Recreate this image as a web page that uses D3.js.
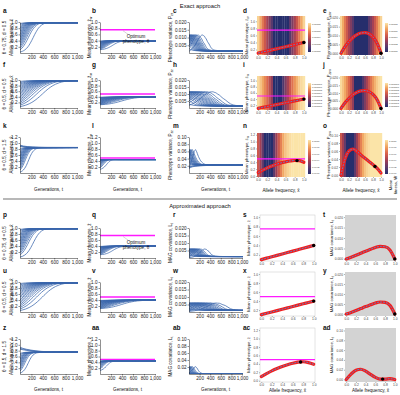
<!DOCTYPE html>
<html>
<head>
<meta charset="utf-8">
<script src="https://cdn.jsdelivr.net/npm/d3@7"></script>
<style>
  body { margin: 0; background: #fff; }
  text { font-family: "Liberation Sans", Arial, sans-serif; }
</style>
</head>
<body>
<svg id="fig" width="400" height="395"></svg>
<script>
// ---------- data ----------
const generationTicks = [200, 400, 600, 800, 1000];
const freqTicks = [0, 0.2, 0.4, 0.6, 0.8, 1.0];
const xGrid = [0, 0.1, 0.2, 0.3, 0.4, 0.5, 0.6, 0.7, 0.8, 0.9, 1.0];

const rowTitles = ["θ = 0.75, d = 0.5", "θ = 0.5, d = 0.5", "θ = 0.5, d = 1.5",
                   "θ = 0.75, d = 0.5", "θ = 0.5, d = 0.5", "θ = 0.5, d = 1.5"];
const optimum = [0.75, 0.5, 0.5, 0.75, 0.5, 0.5];
const dotFreq = [1, 1, 0.85, 1, 1, 0.75];
const letters = [["a", "b", "c", "d", "e"], ["f", "g", "h", "i", "j"], ["k", "l", "m", "n", "o"],
                 ["p", "q", "r", "s", "t"], ["u", "v", "w", "x", "y"], ["z", "aa", "ab", "ac", "ad"]];

// allele frequency trajectories [generation, x̄]; other runs start further along the same path
const trajA = [[0,0.03],[85,0.1],[116,0.15],[139,0.2],[158,0.25],[175,0.3],[190,0.35],[205,0.4],[218,0.45],
  [232,0.5],[245,0.55],[259,0.6],[273,0.65],[289,0.7],[305,0.75],[324,0.8],[347,0.85],[378,0.9],[428,0.95],
  [500,0.97],[650,0.977],[1700,0.978]];
const startA = [0.03,0.1,0.15,0.2,0.25,0.3,0.35,0.4,0.45,0.5,0.55,0.6,0.65,0.7,0.75,0.8,0.85,0.9,0.95];

const trajF = [[0,0.05],[100,0.1],[161,0.15],[208,0.2],[246,0.25],[280,0.3],[310,0.35],[339,0.4],[366,0.45],
  [393,0.5],[419,0.55],[447,0.6],[475,0.65],[505,0.7],[539,0.75],[577,0.8],[624,0.85],[685,0.9],[785,0.95],
  [880,0.968],[1050,0.975],[2000,0.977]];
const startF = [0.05,0.1,0.15,0.2,0.25,0.3,0.35,0.4,0.45,0.5,0.55,0.6,0.65,0.7,0.75,0.8,0.85,0.9,0.95];

const trajK = [[0,0.03],[59,0.1],[80,0.15],[97,0.2],[111,0.25],[123,0.3],[134,0.35],[145,0.4],[156,0.45],
  [167,0.5],[178,0.55],[190,0.6],[204,0.65],[220,0.7],[242,0.75],[276,0.8],[320,0.83],[420,0.845],[1500,0.85]];
const startK = [0.03,0.1,0.15,0.2,0.25,0.3,0.35,0.4,0.45,0.5,0.55,0.6,0.65,0.7,0.75,0.8];
const trajKdown = [[0,0.93],[60,0.9],[130,0.88],[220,0.866],[330,0.857],[480,0.852],[1500,0.85]];
const startKdown = [0.93, 0.9, 0.88];

const trajZ = [[0,0.03],[59,0.1],[81,0.15],[98,0.2],[113,0.25],[126,0.3],[138,0.35],[151,0.4],[163,0.45],
  [176,0.5],[190,0.55],[207,0.6],[230,0.65],[264,0.7],[308,0.73],[400,0.745],[1500,0.75]];
const startZ = [0.03,0.1,0.15,0.2,0.25,0.3,0.35,0.4,0.45,0.5,0.55,0.6,0.65,0.7];
const trajZdown = [[0,0.92],[50,0.88],[110,0.85],[190,0.82],[280,0.795],[380,0.775],[500,0.762],[700,0.754],[1500,0.75]];
const startZdown = [0.92, 0.88, 0.85];

// mean phenotype and variance / covariance as functions of allele frequency (on xGrid)
const phenoLinear = [0.1,0.13,0.16,0.19,0.22,0.25,0.28,0.31,0.34,0.37,0.4];
const phenoCurvedExact = [0.1,0.17,0.235,0.29,0.34,0.38,0.41,0.435,0.45,0.445,0.4];
const phenoCurvedApprox = [0.1,0.17,0.235,0.29,0.34,0.38,0.415,0.44,0.45,0.43,0.39];
const varianceLow = [0,0.0037,0.0066,0.0089,0.0105,0.0114,0.0116,0.0109,0.0091,0.0058,0];
const varianceHigh = [0,0.04,0.06,0.065,0.059,0.05,0.042,0.034,0.026,0.017,0.005];
const covLow = [0,0.0008,0.0017,0.0027,0.0037,0.0046,0.0055,0.006,0.0058,0.0043,0];
const covHigh = [0,0.011,0.019,0.021,0.017,0.0105,0.0045,0.001,0.0008,0.0018,0];

// mean fitness heat-map stripes, x̄ = 0, 0.05, ..., 1 (0 = lowest, 1 = highest)
const stripeX = [0,0.05,0.1,0.15,0.2,0.25,0.3,0.35,0.4,0.45,0.5,0.55,0.6,0.65,0.7,0.75,0.8,0.85,0.9,0.95,1];
const stripesRow1 = [0.95,0.82,0.68,0.55,0.42,0.3,0.18,0,0,0,0,0,0,0,0.18,0.3,0.42,0.55,0.68,0.82,0.95];
const stripesRow2 = [0.97,0.9,0.82,0.72,0.62,0.5,0.35,0,0,0,0,0.15,0.3,0.42,0.55,0.66,0.76,0.85,0.92,0.97,1];
const stripesRow3 = [0.55,0.4,0.22,0,0,0,0,0.2,0.38,0.55,0.7,0.82,0.9,0.95,0.98,1,1,1,1,1,1];
const fitnessLabels1 = ["0.00008","0.00006","0.00004","0.00002","0.00000"];
const fitnessLabels2 = ["0.000007","0.000006","0.000005","0.000004","0.000003","0.000002","0.000001","0.000000"];
const fitnessLabels3 = ["1.0000","0.9998","0.9996","0.9994","0.9992","0.9990"];

// ---------- layout ----------
const svg = d3.select("#fig");
const blue = "#3a65ab", magenta = "#ff1aff", red = "#f21d1d", dashBlue = "#4f8fd6";
const heatStops = [0, 0.2, 0.4, 0.6, 0.8, 1];
const heatColors = ["#262e6c", "#5e3a6c", "#a03f55", "#d9604a", "#f0a25e", "#fbe4a8"];
const heat = d3.scaleLinear().domain(heatStops).range(heatColors);

const colX = [[20, 77], [100, 155], [189, 242]];
const rowY = [[22, 53], [80, 108], [137, 173], [228, 258], [282, 312], [339, 374]];
const mapXExact = [[257, 305], [340, 382]];
const mapXApprox = [[260, 315], [345, 396]];
const mapY = [[16, 55], [76, 110], [133, 177], [215, 261], [272, 316], [328, 382]];
const letterX = [3, 92, 173, 243, 323];
const letterY = [13, 67, 128, 217, 273, 330];

const rows = [
  { up: trajA, upS: startA, down: null, downS: [], pheno: phenoLinear, spread: varianceLow, stripes: stripesRow1, cb: fitnessLabels1, yMax: 1, sMax: 0.02 },
  { up: trajF, upS: startF, down: null, downS: [], pheno: phenoLinear, spread: varianceLow, stripes: stripesRow2, cb: fitnessLabels2, yMax: 1, sMax: 0.02 },
  { up: trajK, upS: startK, down: trajKdown, downS: startKdown, pheno: phenoCurvedExact, spread: varianceHigh, stripes: stripesRow3, cb: fitnessLabels3, yMax: 1.2, sMax: 0.1 },
  { up: trajA, upS: startA, down: null, downS: [], pheno: phenoLinear, spread: covLow, yMax: 1, sMax: 0.02 },
  { up: trajF, upS: startF, down: null, downS: [], pheno: phenoLinear, spread: covLow, yMax: 1, sMax: 0.02 },
  { up: trajZ, upS: startZ, down: trajZdown, downS: startZdown, pheno: phenoCurvedApprox, spread: covHigh, yMax: 1.2, sMax: 0.1 }
];

function fromStart(master, s) {
  const k = master.findIndex(p => Math.abs(p[1] - s) < 1e-9);
  const t0 = master[k][0];
  return master.slice(k).map(p => [p[0] - t0, p[1]]);
}

function styleAxis(g, col, size) {
  g.attr("font-size", size).attr("font-family", "Liberation Sans, Arial, sans-serif");
  g.select(".domain").attr("stroke", col).attr("stroke-width", 0.5);
  g.selectAll(".tick line").attr("stroke", col).attr("stroke-width", 0.5);
  g.selectAll(".tick text").attr("fill", col === "#222" ? "#222" : "#444");
}

function label(x, y, txt, size, opts = {}) {
  const t = svg.append("text").attr("x", x).attr("y", y).attr("font-size", size)
    .attr("text-anchor", opts.anchor || "start").attr("fill", opts.fill || "#111");
  if (opts.bold) t.attr("font-weight", "bold");
  if (opts.rotate) t.attr("transform", `rotate(-90,${x},${y})`);
  return t.text(txt);
}

function yLabel(x, y, main, sub, size = 4.6) {
  const t = svg.append("text").attr("x", x).attr("y", y).attr("font-size", size)
    .attr("text-anchor", "middle").attr("transform", `rotate(-90,${x},${y})`).attr("fill", "#111");
  t.append("tspan").text(main);
  if (sub) t.append("tspan").attr("font-size", size * 0.72).attr("dy", 1.2).text(sub);
}

function timePanel(r, c, curves, yMax, yTicks, fmt, theta) {
  const [x0, x1] = colX[c], [y0, y1] = rowY[r];
  const x = d3.scaleLinear().domain([0, 1000]).range([x0, x1]);
  const y = d3.scaleLinear().domain([0, yMax]).range([y1, y0]);
  const id = `clip${r}_${c}`;
  svg.append("clipPath").attr("id", id).append("rect")
    .attr("x", x0).attr("y", y0 - 4).attr("width", x1 - x0 + 1).attr("height", y1 - y0 + 4);
  const line = d3.line().x(d => x(d[0])).y(d => y(d[1])).curve(d3.curveMonotoneX);
  const g = svg.append("g");
  g.append("g").attr("clip-path", `url(#${id})`).selectAll("path").data(curves).join("path")
    .attr("d", line).attr("fill", "none").attr("stroke", blue).attr("stroke-width", 0.75);
  if (theta != null) {
    g.append("line").attr("x1", x0).attr("x2", x1).attr("y1", y(theta)).attr("y2", y(theta))
      .attr("stroke", magenta).attr("stroke-width", 1.4);
  }
  g.append("g").attr("transform", `translate(0,${y1})`)
    .call(d3.axisBottom(x).tickValues(generationTicks).tickSize(1.5).tickSizeOuter(0).tickPadding(1))
    .call(styleAxis, "#222", 4.6);
  g.append("g").attr("transform", `translate(${x0},0)`)
    .call(d3.axisLeft(y).tickValues(yTicks).tickFormat(d3.format(fmt)).tickSize(1.5).tickSizeOuter(0).tickPadding(1))
    .call(styleAxis, "#222", 4.6);
}

function mapPanel(r, c, values, yDom, yTicks, fmt, row) {
  const exact = r < 3;
  const [x0, x1] = exact ? mapXExact[c - 3] : mapXApprox[c - 3];
  const [y0, y1] = mapY[r];
  const x = d3.scaleLinear().domain([-0.025, 1.025]).range([x0, x1]);
  const y = d3.scaleLinear().domain(yDom).range([y1, y0]);
  const g = svg.append("g");
  if (exact) {
    const step = x(0.05) - x(0);
    g.append("g").selectAll("rect").data(row.stripes).join("rect")
      .attr("x", (d, i) => x(stripeX[i]) - step / 2).attr("width", step + 0.2)
      .attr("y", y0).attr("height", y1 - y0).attr("fill", d => heat(d));
    // colour bar
    const cbx = x1 + 3, cby0 = y0 + 7, cby1 = y1 - 3;
    const gid = `grad${r}_${c}`;
    const grad = svg.append("defs").append("linearGradient").attr("id", gid)
      .attr("x1", 0).attr("y1", 1).attr("x2", 0).attr("y2", 0);
    heatStops.forEach((v, i) => grad.append("stop").attr("offset", v).attr("stop-color", heatColors[i]));
    g.append("rect").attr("x", cbx).attr("y", cby0).attr("width", 3).attr("height", cby1 - cby0)
      .attr("fill", `url(#${gid})`);
    const cbScale = d3.scalePoint().domain(row.cb).range([cby0 + 1, cby1 - 1]);
    g.selectAll("text.cb").data(row.cb).join("text").attr("class", "cb")
      .attr("x", cbx + 4).attr("y", d => cbScale(d) + 0.9)
      .attr("font-size", 2.4).attr("fill", "#333").text(d => d);
  } else if (c === 3) {
    g.append("rect").attr("x", x0).attr("y", y0).attr("width", x1 - x0).attr("height", y1 - y0)
      .attr("fill", "#fff").attr("stroke", "#c8c8c8").attr("stroke-width", 0.5);
  } else {
    g.append("rect").attr("x", x0).attr("y", y0).attr("width", x1 - x0).attr("height", y1 - y0)
      .attr("fill", "#d3d3d3");
  }
  if (c === 3) {
    g.append("line").attr("x1", x0).attr("x2", x1).attr("y1", y(optimum[r])).attr("y2", y(optimum[r]))
      .attr("stroke", magenta).attr("stroke-width", 1.2);
  }
  const pts = xGrid.map((v, i) => [v, values[i]]);
  const line = d3.line().x(d => x(d[0])).y(d => y(d[1])).curve(d3.curveMonotoneX);
  g.append("path").attr("d", line(pts)).attr("fill", "none").attr("stroke", red)
    .attr("stroke-width", 3.2).attr("stroke-linecap", "round");
  g.append("path").attr("d", line(pts)).attr("fill", "none").attr("stroke", dashBlue)
    .attr("stroke-width", 0.9).attr("stroke-dasharray", "1.8,1.2");
  const lookup = d3.scaleLinear().domain(xGrid).range(values);
  g.append("circle").attr("cx", x(dotFreq[r])).attr("cy", y(lookup(dotFreq[r]))).attr("r", 1.7).attr("fill", "#000");
  g.append("g").attr("transform", `translate(0,${y1})`)
    .call(d3.axisBottom(x).tickValues(freqTicks).tickFormat(d3.format(".1f")).tickSize(1).tickSizeOuter(0).tickPadding(1))
    .call(styleAxis, "#666", 3.3).call(a => a.select(".domain").remove());
  g.append("g").attr("transform", `translate(${x0},0)`)
    .call(d3.axisLeft(y).tickValues(yTicks).tickFormat(d3.format(fmt)).tickSize(1).tickSizeOuter(0).tickPadding(1))
    .call(styleAxis, "#666", 3.3).call(a => a.select(".domain").remove());
}

// ---------- draw ----------
rows.forEach((row, r) => {
  const freqCurves = row.upS.map(s => fromStart(row.up, s))
    .concat(row.downS.map(s => fromStart(row.down, s)));
  const toPheno = d3.scaleLinear().domain(xGrid).range(row.pheno);
  const toSpread = d3.scaleLinear().domain(xGrid).range(row.spread);
  const phenoCurves = freqCurves.map(cv => cv.map(p => [p[0], toPheno(p[1])]));
  const spreadCurves = freqCurves.map(cv => cv.map(p => [p[0], toSpread(p[1])]));
  const tall = row.yMax > 1;
  const fTicks = tall ? [0.2, 0.4, 0.6, 0.8, 1.0, 1.2] : [0.2, 0.4, 0.6, 0.8, 1.0];
  const wide = row.sMax > 0.05;
  const sTicks = wide ? [0.02, 0.04, 0.06, 0.08, 0.1] : [0.005, 0.01, 0.015, 0.02];
  const sFmt = wide ? ".2f" : ".3f";

  timePanel(r, 0, freqCurves, row.yMax, fTicks, ".1f", null);
  timePanel(r, 1, phenoCurves, row.yMax, fTicks, ".1f", optimum[r]);
  timePanel(r, 2, spreadCurves, row.sMax, sTicks, sFmt, null);

  const pDom = tall ? [-0.03, 1.25] : (r < 3 ? [0.045, 1.15] : [0.07, 1.045]);
  const pTicks = tall ? [0, 0.2, 0.4, 0.6, 0.8, 1.0, 1.2] : [0.2, 0.4, 0.6, 0.8, 1.0];
  mapPanel(r, 3, row.pheno, pDom, pTicks, ".1f", row);
  const sDom = wide ? [-0.005, 0.105] : [-0.001, 0.021];
  const sTicks5 = wide ? [0, 0.02, 0.04, 0.06, 0.08, 0.1] : [0, 0.005, 0.01, 0.015, 0.02];
  mapPanel(r, 4, row.spread, sDom, sTicks5, sFmt, row);

  // letters and axis titles
  letters[r].forEach((L, c) => label(letterX[c], letterY[r], L, 6.5, { bold: true }));
  const cy = (rowY[r][0] + rowY[r][1]) / 2;
  label(6, cy, rowTitles[r], 4.6, { rotate: true, anchor: "middle" });
  yLabel(13, cy, "Allele frequency, x\u0304");
  yLabel(91, cy, "Mean phenotype, z\u0304", r < 3 ? "w" : null);
  yLabel(172, cy, r < 3 ? "Phenotype variance, P" : "MAG covariance, L", r < 3 ? "zz" : "t");
  const my = (mapY[r][0] + mapY[r][1]) / 2;
  yLabel(r < 3 ? 248 : 250, my, "Mean phenotype, z\u0304", r < 3 ? "w" : null, 4.2);
  yLabel(r < 3 ? 330 : 333, my, r < 3 ? "Phenotype variance, P" : "MAG covariance, L", r < 3 ? "zzw" : "t", 4.2);
});

// optimum annotation in b and q
[0, 3].forEach(r => {
  const y = d3.scaleLinear().domain([0, 1]).range([rowY[r][1], rowY[r][0]]);
  const ly = y(0.75);
  svg.append("line").attr("x1", 123).attr("y1", ly + 1).attr("x2", 128).attr("y2", ly + 4.5)
    .attr("stroke", "#999").attr("stroke-width", 0.4);
  label(136, ly + 8, "Optimum", 4.6, { anchor: "middle" });
  label(136, ly + 13.5, "phenotype, θ", 4.6, { anchor: "middle" });
});

// bottom axis titles
[[2, 191], [5, 391]].forEach(([r, yy]) => {
  colX.forEach(([a, b]) => label((a + b) / 2, yy, "Generations, t", 4.6, { anchor: "middle" }));
  const mx = r < 3 ? mapXExact : mapXApprox;
  mx.forEach(([a, b]) => label((a + b) / 2, yy + 1, "Allele frequency, x\u0304", 4.6, { anchor: "middle" }));
});

label(392, 185, "Mean", 4.2, { rotate: true, anchor: "middle" });
label(397, 185, "fitness, W\u0304", 4.2, { rotate: true, anchor: "middle" });

label(200, 8, "Exact approach", 5.8, { anchor: "middle" });
svg.append("line").attr("x1", 3).attr("x2", 397).attr("y1", 199).attr("y2", 199)
  .attr("stroke", "#333").attr("stroke-width", 0.7);
label(200, 208, "Approximated approach", 5.8, { anchor: "middle" });
</script>
</body>
</html>
